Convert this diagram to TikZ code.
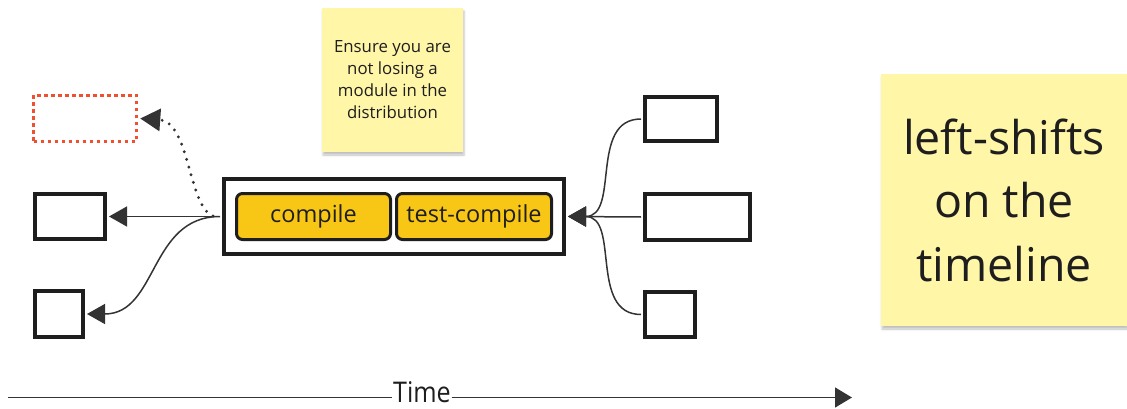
\documentclass[tikz,border=0pt]{standalone}
\usepackage{fontspec}
\setmainfont{Open Sans}
\newfontfamily\narrowfont[FakeStretch=0.88]{Open Sans}
\usetikzlibrary{arrows.meta,shadows.blur}
\definecolor{ink}{HTML}{1E1E1E}
\definecolor{wire}{HTML}{333333}
\definecolor{gold}{HTML}{F8C614}
\definecolor{sticky}{HTML}{FFF6A8}
\definecolor{alert}{HTML}{F0502F}
\tikzset{
  plainbox/.style={draw=ink, line width=4pt, fill=white, inner sep=0pt},
  ghostbox/.style={draw=alert, line width=3.5pt, dash pattern=on 3.5pt off 3.5pt, inner sep=0pt},
  stagebox/.style={draw=ink, line width=3pt, fill=gold, rounded corners=6pt, inner sep=0pt,
    text=ink, font=\fontsize{23.5}{28}\selectfont},
  note/.style={fill=sticky, inner sep=0pt, align=center, text=ink,
    blur shadow={shadow xshift=1pt, shadow yshift=-3pt, shadow blur steps=4, shadow opacity=25}},
  conn/.style={draw=wire, line width=1.5pt, -{Triangle[length=18pt,width=20pt]}},
  dotconn/.style={draw=wire, line width=3.2pt, dash pattern=on 0pt off 8pt, line cap=round,
    -{Triangle[length=20pt,width=22pt]}},
}
\begin{document}
\begin{tikzpicture}[x=1pt, y=-1pt]
\useasboundingbox (0,0) rectangle (1127,409);

% sticky notes
\node[note, minimum width=141pt, minimum height=144pt, font=\fontsize{16.8}{22}\selectfont]
  (hint) at (392.5,80) {Ensure you are\\not losing a\\module in the\\distribution};
\node[note, minimum width=246pt, minimum height=252pt, font=\fontsize{46.5}{63.5}\selectfont]
  (shift) at (1004,200) {left-shifts\\on the\\timeline};

% build stages
\node[plainbox, minimum width=340pt, minimum height=75pt] (core) at (394,216.5) {};
\node[stagebox, minimum width=154pt, minimum height=46pt] (compile) at (313.5,216.5) {compile};
\node[stagebox, minimum width=155pt, minimum height=46pt] (testc) at (474,216.5) {test-compile};

% downstream targets
\node[ghostbox, minimum width=103pt, minimum height=46pt] (lost) at (85,118.5) {};
\node[plainbox, minimum width=70pt, minimum height=45pt] (l2) at (70,216.5) {};
\node[plainbox, minimum width=48pt, minimum height=46pt] (l3) at (59,314) {};

% upstream sources
\node[plainbox, minimum width=72pt, minimum height=44pt] (ra) at (681,119) {};
\node[plainbox, minimum width=105pt, minimum height=46pt] (rb) at (697.5,217) {};
\node[plainbox, minimum width=50pt, minimum height=45pt] (rc) at (670,314.5) {};

% outgoing connectors
\coordinate (out) at ([xshift=-2pt]core.west);
\draw[conn] (out) -- ([xshift=2pt]l2.east);
\draw[conn] (out) to[out=180, in=0, looseness=1.1] ([xshift=2pt]l3.east);
\coordinate (dstart) at ([xshift=-9pt, yshift=0.5pt]core.west);
\draw[dotconn] (dstart) .. controls (188,206) and (190,122) .. ([xshift=2pt]lost.east);

% incoming connectors
\coordinate (in) at ([xshift=2pt]core.east);
\draw[conn] ([xshift=-2pt]ra.west) to[out=180, in=0, looseness=1.1] (in);
\draw[conn] ([xshift=-2pt]rb.west) -- (in);
\draw[conn] ([xshift=-2pt]rc.west) to[out=180, in=0, looseness=1.1] (in);

% time axis
\coordinate (t0) at (8,397.5);
\coordinate (t1) at (852,397.5);
\node[fill=white, inner sep=0.5pt, text depth=0pt, anchor=base, text=ink,
  font=\narrowfont\fontsize{28.5}{32}\selectfont] (time) at (422,402.5) {Time};
\draw[draw=wire, line width=1.5pt] (t0) -- (t0 -| time.west);
\draw[draw=wire, line width=1.5pt, -{Triangle[length=17pt,width=20pt]}] (t1 -| time.east) -- (t1);
\end{tikzpicture}
\end{document}
